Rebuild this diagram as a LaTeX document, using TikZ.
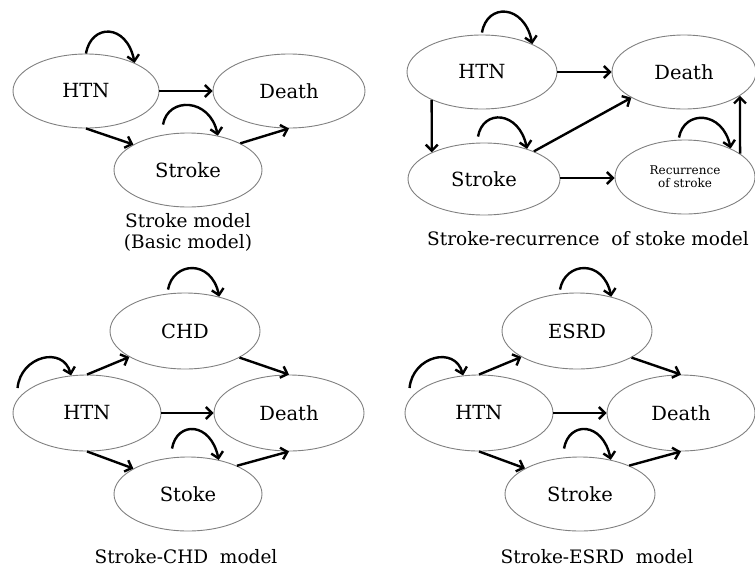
\documentclass[tikz,border=0pt]{standalone}
\usepackage{fontspec}
\setmainfont{DejaVu Serif}
\usetikzlibrary{shapes.geometric,arrows.meta}
\begin{document}
\begin{tikzpicture}[x=1pt,y=-1pt,
  state/.style={ellipse,draw=black!50,line width=0.9pt,inner sep=0pt,
    font=\fontsize{19.5}{22}\selectfont},
  smallstate/.style={state,font=\fontsize{12}{13}\selectfont,align=center},
  arr/.style={line width=2.4pt,-{Straight Barb[length=6pt,width=12pt,line width=2.4pt]}},
  captext/.style={font=\fontsize{18.5}{21}\selectfont,align=center,inner sep=0pt},
]
\path[use as bounding box] (0,0) rectangle (755,571);

% ---------- Panel 1: Stroke model ----------
\node[state,minimum width=146pt,minimum height=74pt] (h1) at (86,91) {HTN};
\node[state,minimum width=152pt,minimum height=74pt] (d1) at (289,91) {Death};
\node[state,minimum width=148pt,minimum height=74pt] (s1) at (188,170) {Stroke};
\draw[arr] (h1.east) -- (d1.west);
\draw[arr] (h1.south) -- (s1.155);
\draw[arr] (s1.27) -- (d1.south);
\draw[arr] (h1.north) .. controls +(5,-30) and +(-8,-40) .. (h1.30);
\draw[arr] ([shift={(-25,-8)}]s1.north) .. controls +(5,-28) and +(-8,-38) .. (s1.49);
\node[captext] (c1) at (188,232) {Stroke model\\(Basic model)};

% ---------- Panel 2: Stroke-recurrence of stroke model ----------
\node[state,minimum width=150pt,minimum height=74pt] (h2) at (482,72) {HTN};
\node[state,minimum width=144pt,minimum height=74pt] (d2) at (684,72) {Death};
\node[state,minimum width=152pt,minimum height=72pt] (s2) at (484,179) {Stroke};
\node[smallstate,minimum width=140pt,minimum height=74pt] (r2) at (685,177) {Recurrence\\of stroke};
\draw[arr] (h2.east) -- (d2.west);
\draw[arr] (h2.209) -- (s2.153);
\draw[arr] (s2.29) -- (d2.206);
\draw[arr] ([yshift=1pt]s2.east) -- ([yshift=1pt]s2.east -| r2.west);
\draw[arr] (r2.23) -- (d2.337);
\draw[arr] ([shift={(0,-2)}]h2.north) .. controls +(5,-30) and +(-8,-40) .. (h2.29);
\draw[arr] ([shift={(-6,-6)}]s2.north) .. controls +(5,-28) and +(-8,-38) .. (s2.35);
\draw[arr] ([shift={(-6,-2)}]r2.north) .. controls +(5,-28) and +(-8,-38) .. (r2.32);
\node[captext] (c2) at (588,239) {Stroke-recurrence\ \ of stoke model};

% ---------- Panel 3: Stroke-CHD model ----------
\node[state,minimum width=150pt,minimum height=76pt] (c3) at (185,331) {CHD};
\node[state,minimum width=148pt,minimum height=76pt] (h3) at (87,413) {HTN};
\node[state,minimum width=150pt,minimum height=76pt] (d3) at (289,413) {Death};
\node[state,minimum width=148pt,minimum height=74pt] (s3) at (188,494) {Stoke};
\draw[arr] (h3.north) -- (c3.205);
\draw[arr] (c3.334) -- (d3.north);
\draw[arr] (h3.east) -- (d3.west);
\draw[arr] (h3.south) -- (s3.155);
\draw[arr] (s3.30) -- (d3.south);
\draw[arr] ([shift={(-17,-3)}]c3.north) .. controls +(5,-28) and +(-8,-38) .. (c3.45);
\draw[arr] ([shift={(5,-25)}]h3.west) .. controls +(3,-32) and +(-8,-30) .. (h3.113);
\draw[arr] ([shift={(-16,-8)}]s3.north) .. controls +(5,-28) and +(-8,-38) .. (s3.48);
\node[captext] (c3t) at (186,557) {Stroke-CHD\ \ model};

% ---------- Panel 4: Stroke-ESRD model ----------
\node[state,minimum width=150pt,minimum height=76pt] (e4) at (577,331) {ESRD};
\node[state,minimum width=148pt,minimum height=76pt] (h4) at (479,413) {HTN};
\node[state,minimum width=148pt,minimum height=76pt] (d4) at (681,413) {Death};
\node[state,minimum width=150pt,minimum height=74pt] (s4) at (580,494) {Stroke};
\draw[arr] (h4.north) -- (e4.205);
\draw[arr] (e4.334) -- (d4.north);
\draw[arr] (h4.east) -- (d4.west);
\draw[arr] (h4.south) -- (s4.155);
\draw[arr] (s4.30) -- (d4.south);
\draw[arr] ([shift={(-17,-3)}]e4.north) .. controls +(5,-28) and +(-8,-38) .. (e4.45);
\draw[arr] ([shift={(5,-25)}]h4.west) .. controls +(3,-32) and +(-8,-30) .. (h4.113);
\draw[arr] ([shift={(-16,-8)}]s4.north) .. controls +(5,-28) and +(-8,-38) .. (s4.48);
\node[captext] (c4t) at (597,557) {Stroke-ESRD\ \ model};
\end{tikzpicture}
\end{document}
